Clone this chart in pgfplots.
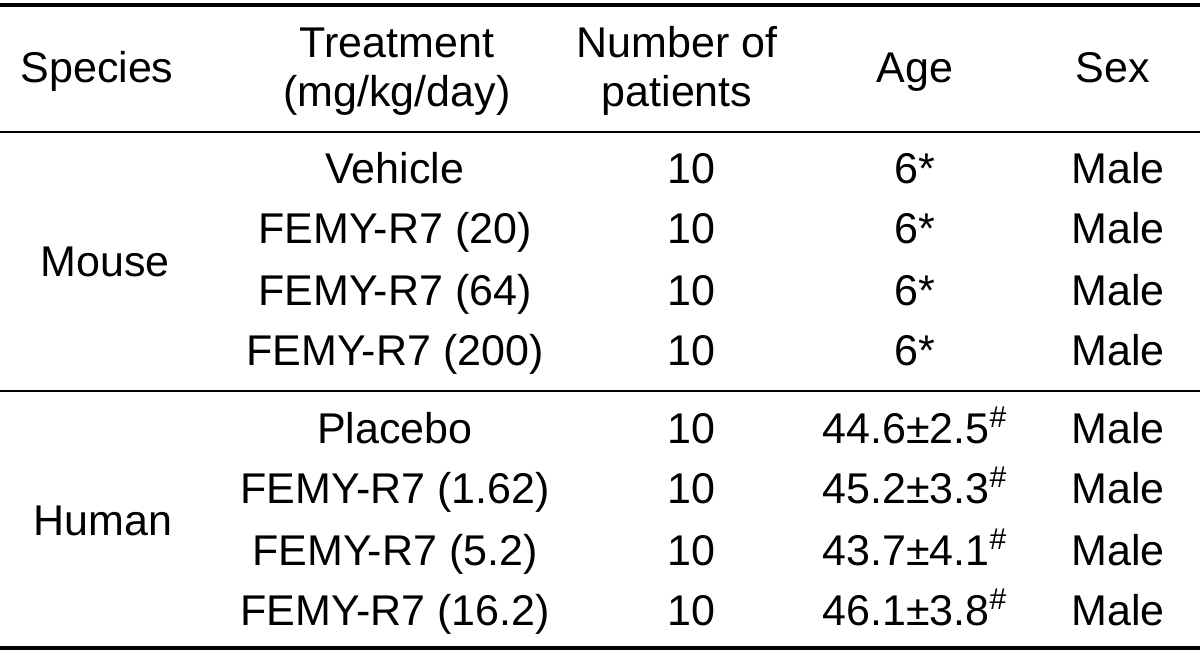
\documentclass[border=0pt]{standalone}
\usepackage{fontspec}
\setmainfont{Liberation Sans}
\usepackage{pgfplots}
\pgfplotsset{compat=1.18}
\begin{document}
\begin{tikzpicture}
\begin{axis}[
  scale only axis, width=600pt, height=327.5pt,
  xmin=0, xmax=1200, ymin=0, ymax=655, y dir=reverse,
  hide axis, clip=false,
]
\tikzset{cell/.style={font=\fontsize{21.5}{25}\selectfont, inner sep=0pt, anchor=base}}
% rules
\draw[line width=2pt] (axis cs:0,5) -- (axis cs:1200,5);
\draw[line width=1.4pt] (axis cs:0,132) -- (axis cs:1200,132);
\draw[line width=1.4pt] (axis cs:0,391) -- (axis cs:1200,391);
\draw[line width=2pt] (axis cs:0,648) -- (axis cs:1200,648);
% header
\node[cell] at (axis cs:97,82) {Species};
\node[cell] at (axis cs:397,57) {Treatment};
\node[cell] at (axis cs:397,106) {(mg/kg/day)};
\node[cell] at (axis cs:677,57) {Number of};
\node[cell] at (axis cs:677,106) {patients};
\node[cell] at (axis cs:915,82) {Age};
\node[cell] at (axis cs:1113,82) {Sex};
% species
\node[cell] at (axis cs:105,276) {Mouse};
\node[cell] at (axis cs:103,535) {Human};
% treatment
\node[cell] at (axis cs:395,183) {Vehicle};
\node[cell] at (axis cs:395,243) {FEMY-R7 (20)};
\node[cell] at (axis cs:395,305) {FEMY-R7 (64)};
\node[cell] at (axis cs:395,365) {FEMY-R7 (200)};
\node[cell] at (axis cs:395,443) {Placebo};
\node[cell] at (axis cs:395,503) {FEMY-R7 (1.62)};
\node[cell] at (axis cs:395,565) {FEMY-R7 (5.2)};
\node[cell] at (axis cs:395,625) {FEMY-R7 (16.2)};
% number of patients
\node[cell] at (axis cs:691,183) {10};
\node[cell] at (axis cs:691,243) {10};
\node[cell] at (axis cs:691,305) {10};
\node[cell] at (axis cs:691,365) {10};
\node[cell] at (axis cs:691,443) {10};
\node[cell] at (axis cs:691,503) {10};
\node[cell] at (axis cs:691,565) {10};
\node[cell] at (axis cs:691,625) {10};
% age
\node[cell] at (axis cs:915,183) {6*};
\node[cell] at (axis cs:915,243) {6*};
\node[cell] at (axis cs:915,305) {6*};
\node[cell] at (axis cs:915,365) {6*};
\node[cell] at (axis cs:915,443) {44.6±2.5\textsuperscript{\#}};
\node[cell] at (axis cs:915,503) {45.2±3.3\textsuperscript{\#}};
\node[cell] at (axis cs:915,565) {43.7±4.1\textsuperscript{\#}};
\node[cell] at (axis cs:915,625) {46.1±3.8\textsuperscript{\#}};
% sex
\node[cell] at (axis cs:1118,183) {Male};
\node[cell] at (axis cs:1118,243) {Male};
\node[cell] at (axis cs:1118,305) {Male};
\node[cell] at (axis cs:1118,365) {Male};
\node[cell] at (axis cs:1118,443) {Male};
\node[cell] at (axis cs:1118,503) {Male};
\node[cell] at (axis cs:1118,565) {Male};
\node[cell] at (axis cs:1118,625) {Male};
\end{axis}
\pgfresetboundingbox
\path[use as bounding box] (current axis.south west) rectangle (current axis.north east);
\end{tikzpicture}
\end{document}
